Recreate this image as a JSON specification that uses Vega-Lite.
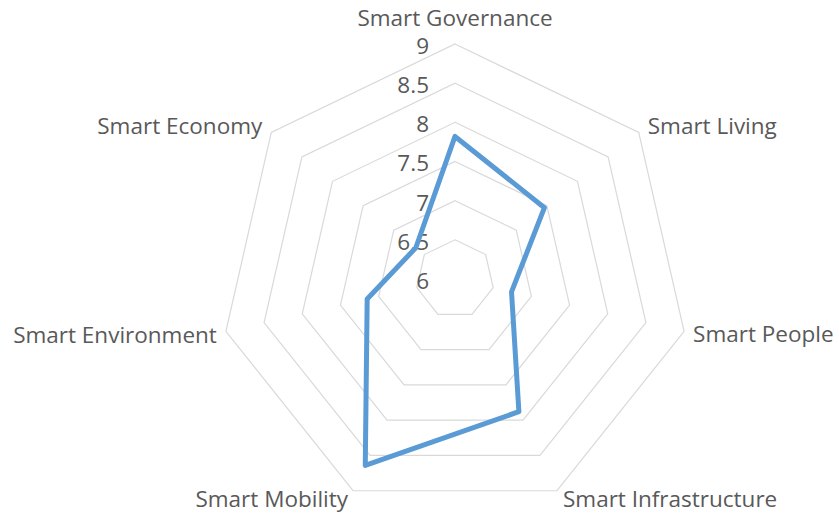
{
  "$schema": "https://vega.github.io/schema/vega-lite/v6.json",
  "width": 839,
  "height": 513,
  "padding": 0,
  "autosize": {"type": "none"},
  "background": "white",
  "config": {"view": {"stroke": null}, "font": "Open Sans"},
  "datasets": {
    "scores": [
      {"axis": "Smart Governance", "k": 0, "value": 7.82},
      {"axis": "Smart Living", "k": 1, "value": 7.46},
      {"axis": "Smart People", "k": 2, "value": 6.74},
      {"axis": "Smart Infrastructure", "k": 3, "value": 7.88},
      {"axis": "Smart Mobility", "k": 4, "value": 8.64},
      {"axis": "Smart Environment", "k": 5, "value": 7.15},
      {"axis": "Smart Economy", "k": 6, "value": 6.64}
    ],
    "rings": [
      {"ring": 6, "k": [0, 1, 2, 3, 4, 5, 6]},
      {"ring": 6.5, "k": [0, 1, 2, 3, 4, 5, 6]},
      {"ring": 7, "k": [0, 1, 2, 3, 4, 5, 6]},
      {"ring": 7.5, "k": [0, 1, 2, 3, 4, 5, 6]},
      {"ring": 8, "k": [0, 1, 2, 3, 4, 5, 6]},
      {"ring": 8.5, "k": [0, 1, 2, 3, 4, 5, 6]},
      {"ring": 9, "k": [0, 1, 2, 3, 4, 5, 6]}
    ]
  },
  "encoding": {
    "x": {"field": "px", "type": "quantitative", "scale": {"domain": [-1.93617, 1.63404], "nice": false, "zero": false}, "axis": null},
    "y": {"field": "py", "type": "quantitative", "scale": {"domain": [-0.99574, 1.18723], "nice": false, "zero": false}, "axis": null}
  },
  "layer": [
    {
      "data": {"name": "rings"},
      "transform": [
        {"filter": "datum.ring > 6"},
        {"flatten": ["k"]},
        {"calculate": "(datum.ring - 6) / 3", "as": "r"},
        {"calculate": "datum.r * sin(datum.k * 2 * PI / 7)", "as": "px"},
        {"calculate": "datum.r * cos(datum.k * 2 * PI / 7)", "as": "py"}
      ],
      "mark": {"type": "line", "interpolate": "linear-closed", "color": "#D9D9D9", "strokeWidth": 1.2},
      "encoding": {
        "detail": {"field": "ring", "type": "nominal"},
        "order": {"field": "k", "type": "quantitative"}
      }
    },
    {
      "data": {"name": "rings"},
      "transform": [
        {"calculate": "0", "as": "px"},
        {"calculate": "(datum.ring - 6) / 3", "as": "py"}
      ],
      "mark": {"type": "text", "align": "right", "baseline": "middle", "dx": -26, "dy": 3, "fontSize": 22.5, "color": "#595959"},
      "encoding": {"text": {"field": "ring", "type": "quantitative", "format": "~g"}}
    },
    {
      "data": {"name": "scores"},
      "transform": [
        {"calculate": "(datum.value - 6) / 3", "as": "r"},
        {"calculate": "datum.r * sin(datum.k * 2 * PI / 7)", "as": "px"},
        {"calculate": "datum.r * cos(datum.k * 2 * PI / 7)", "as": "py"}
      ],
      "mark": {"type": "line", "interpolate": "linear-closed", "color": "#5B9BD5", "strokeWidth": 5, "strokeJoin": "round"},
      "encoding": {"order": {"field": "k", "type": "quantitative"}}
    },
    {
      "data": {"name": "scores"},
      "transform": [
        {"filter": "datum.k == 0"},
        {"calculate": "sin(datum.k * 2 * PI / 7)", "as": "px"},
        {"calculate": "cos(datum.k * 2 * PI / 7)", "as": "py"}
      ],
      "mark": {"type": "text", "align": "center", "baseline": "alphabetic", "dy": -18, "fontSize": 22.5, "color": "#595959"},
      "encoding": {"text": {"field": "axis", "type": "nominal"}}
    },
    {
      "data": {"name": "scores"},
      "transform": [
        {"filter": "datum.k == 1"},
        {"calculate": "sin(datum.k * 2 * PI / 7)", "as": "px"},
        {"calculate": "cos(datum.k * 2 * PI / 7)", "as": "py"}
      ],
      "mark": {"type": "text", "align": "left", "baseline": "alphabetic", "dx": 9, "dy": 2, "fontSize": 22.5, "color": "#595959"},
      "encoding": {"text": {"field": "axis", "type": "nominal"}}
    },
    {
      "data": {"name": "scores"},
      "transform": [
        {"filter": "datum.k == 6"},
        {"calculate": "sin(datum.k * 2 * PI / 7)", "as": "px"},
        {"calculate": "cos(datum.k * 2 * PI / 7)", "as": "py"}
      ],
      "mark": {"type": "text", "align": "right", "baseline": "alphabetic", "dx": -9, "dy": 2, "fontSize": 22.5, "color": "#595959"},
      "encoding": {"text": {"field": "axis", "type": "nominal"}}
    },
    {
      "data": {"name": "scores"},
      "transform": [
        {"filter": "datum.k == 2"},
        {"calculate": "sin(datum.k * 2 * PI / 7)", "as": "px"},
        {"calculate": "cos(datum.k * 2 * PI / 7)", "as": "py"}
      ],
      "mark": {"type": "text", "align": "left", "baseline": "alphabetic", "dx": 9, "dy": 11, "fontSize": 22.5, "color": "#595959"},
      "encoding": {"text": {"field": "axis", "type": "nominal"}}
    },
    {
      "data": {"name": "scores"},
      "transform": [
        {"filter": "datum.k == 5"},
        {"calculate": "sin(datum.k * 2 * PI / 7)", "as": "px"},
        {"calculate": "cos(datum.k * 2 * PI / 7)", "as": "py"}
      ],
      "mark": {"type": "text", "align": "right", "baseline": "alphabetic", "dx": -9, "dy": 12, "fontSize": 22.5, "color": "#595959"},
      "encoding": {"text": {"field": "axis", "type": "nominal"}}
    },
    {
      "data": {"name": "scores"},
      "transform": [
        {"filter": "datum.k == 3"},
        {"calculate": "sin(datum.k * 2 * PI / 7)", "as": "px"},
        {"calculate": "cos(datum.k * 2 * PI / 7)", "as": "py"}
      ],
      "mark": {"type": "text", "align": "left", "baseline": "alphabetic", "dx": 6, "dy": 16, "fontSize": 22.5, "color": "#595959"},
      "encoding": {"text": {"field": "axis", "type": "nominal"}}
    },
    {
      "data": {"name": "scores"},
      "transform": [
        {"filter": "datum.k == 4"},
        {"calculate": "sin(datum.k * 2 * PI / 7)", "as": "px"},
        {"calculate": "cos(datum.k * 2 * PI / 7)", "as": "py"}
      ],
      "mark": {"type": "text", "align": "right", "baseline": "alphabetic", "dx": -5, "dy": 16, "fontSize": 22.5, "color": "#595959"},
      "encoding": {"text": {"field": "axis", "type": "nominal"}}
    }
  ]
}
